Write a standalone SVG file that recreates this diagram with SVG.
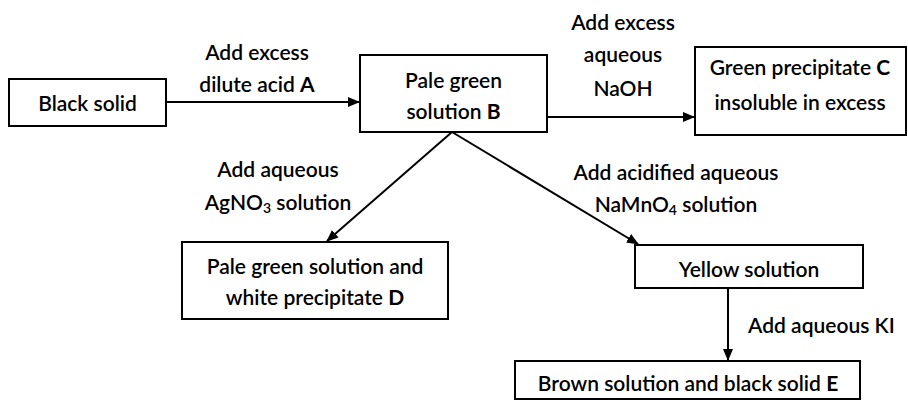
<svg xmlns="http://www.w3.org/2000/svg" width="908" height="400" viewBox="0 0 908 400">
<defs>
<marker id="ah" markerWidth="12" markerHeight="10" refX="11" refY="5" orient="auto" markerUnits="userSpaceOnUse">
<path d="M0,0 L12,5 L0,10 Z" fill="#000"/>
</marker>
<style>
.box{fill:#fff;stroke:#000;stroke-width:2}
.t{font-family:Lato,"Open Sans","Liberation Sans",sans-serif;font-size:21px;fill:#000;font-weight:600}
.c{text-anchor:middle}
.b{font-weight:bold}
.ln{stroke:#000;stroke-width:2;fill:none;marker-end:url(#ah)}
</style>
</defs>
<rect width="908" height="400" fill="#fff"/>
<g id="connectors">
<line class="ln" x1="166" y1="102" x2="359" y2="102"/>
<line class="ln" x1="547" y1="117" x2="694" y2="117"/>
<line class="ln" x1="452" y1="132" x2="327" y2="241"/>
<line class="ln" x1="452" y1="132" x2="638" y2="244"/>
<line class="ln" x1="728" y1="288" x2="728" y2="360"/>
</g>
<g id="labels">
<text class="t c" x="257" y="60">Add excess</text>
<text class="t c" x="257" y="92">dilute acid <tspan class="b">A</tspan></text>
<text class="t c" x="623" y="30">Add excess</text>
<text class="t c" x="623" y="62">aqueous</text>
<text class="t c" x="623" y="96">NaOH</text>
<text class="t c" x="278" y="177">Add aqueous</text>
<text class="t c" x="278" y="210">AgNO<tspan font-size="14" dy="3">3</tspan><tspan dy="-3"> solution</tspan></text>
<text class="t c" x="676" y="180">Add acidified aqueous</text>
<text class="t c" x="676" y="212">NaMnO<tspan font-size="14" dy="3">4</tspan><tspan dy="-3"> solution</tspan></text>
<text class="t" x="748" y="333">Add aqueous KI</text>
</g>
<g id="black-solid">
<rect class="box" x="9" y="79" width="157" height="47"/>
<text class="t c" x="87.5" y="111">Black solid</text>
</g>
<g id="solution-B">
<rect class="box" x="360" y="55" width="187" height="77"/>
<text class="t c" x="453.5" y="88">Pale green</text>
<text class="t c" x="453.5" y="119">solution <tspan class="b">B</tspan></text>
</g>
<g id="precipitate-C">
<rect class="box" x="695" y="47" width="211" height="88"/>
<text class="t c" x="800" y="75">Green precipitate <tspan class="b">C</tspan></text>
<text class="t c" x="800" y="110">insoluble in excess</text>
</g>
<g id="precipitate-D">
<rect class="box" x="182" y="242" width="266" height="77"/>
<text class="t c" x="315" y="274">Pale green solution and</text>
<text class="t c" x="315" y="305">white precipitate <tspan class="b">D</tspan></text>
</g>
<g id="yellow-solution">
<rect class="box" x="635" y="245" width="228" height="43"/>
<text class="t c" x="749" y="277">Yellow solution</text>
</g>
<g id="solid-E">
<rect class="box" x="515" y="361" width="345" height="38"/>
<text class="t c" x="688" y="391">Brown solution and black solid <tspan class="b">E</tspan></text>
</g>
</svg>
